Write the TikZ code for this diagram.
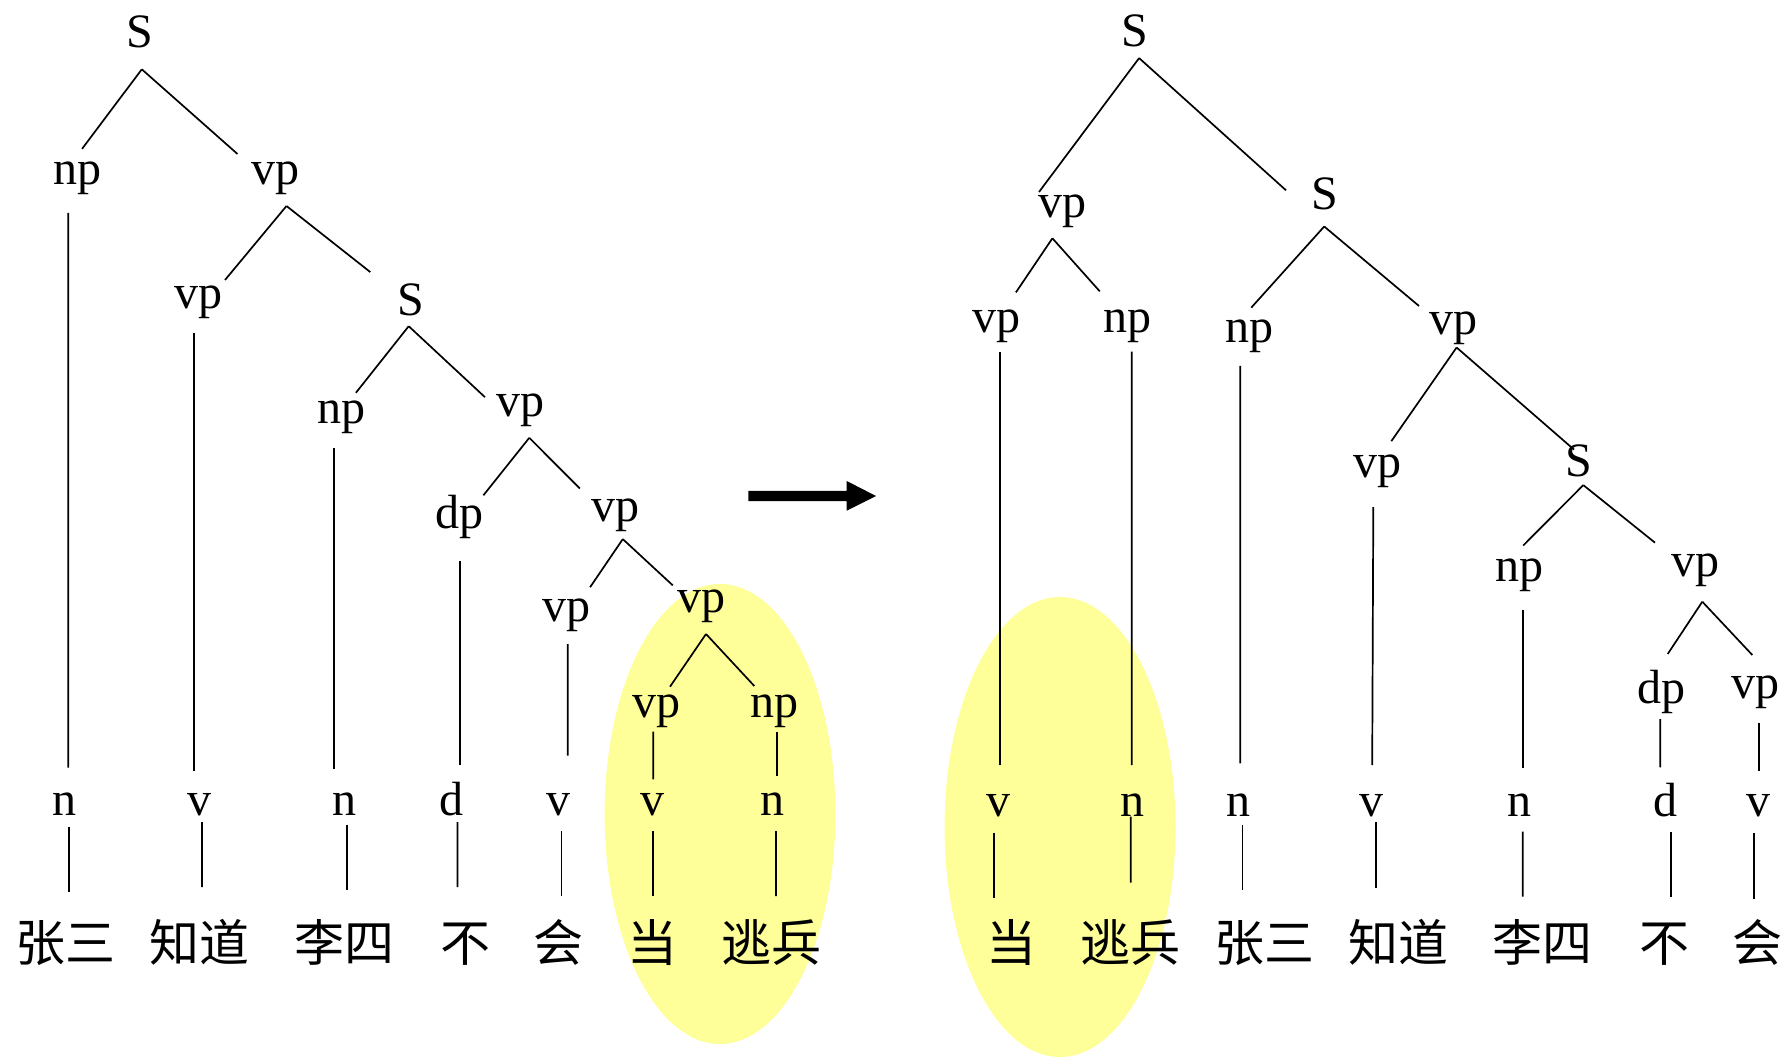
\documentclass[tikz,border=0pt]{standalone}
\usepackage{fontspec}
\setmainfont{Liberation Serif}
\newfontfamily\cjk{Noto Sans CJK SC}
\definecolor{hl}{RGB}{255,255,153}
\begin{document}
\begin{tikzpicture}[x=0.5pt,y=-0.5pt,
  lab/.style={font=\fontsize{24pt}{28pt}\selectfont,inner sep=0pt,anchor=base},
  word/.style={font=\cjk\fontsize{25pt}{30pt}\selectfont,inner sep=0pt,anchor=base},
  br/.style={line width=0.85pt,line cap=butt}]
\useasboundingbox (0,0) rectangle (1787,1058);
% highlight ellipses
\fill[hl] (720,814) ellipse [x radius=115.4, y radius=230];
\fill[hl] (1060,827) ellipse [x radius=115.5, y radius=230];
% ---------------- left tree ----------------
\node[lab] (LS)   at (139.5,48)  {S};
\node[lab] (Lnp1) at (77.5,185)  {np};
\node[lab] (Lvp1) at (275.5,185) {vp};
\node[lab] (Lvp2) at (198,309)   {vp};
\node[lab] (LS2)  at (410.4,316) {S};
\node[lab] (Lnp3) at (341.6,424) {np};
\node[lab] (Lvp3) at (520,417)   {vp};
\node[lab] (Ldp)  at (459.2,528.5) {dp};
\node[lab] (Lvp4) at (615.4,521.4) {vp};
\node[lab] (Lvp5) at (566,621)   {vp};
\node[lab] (Lvp6) at (701.5,612.5) {vp};
\node[lab] (Lvp7) at (656,717)   {vp};
\node[lab] (Lnp7) at (774,717)   {np};
\node[lab] (Ln1) at (64.9,815.5)  {n};
\node[lab] (Lv1) at (199.2,815.5) {v};
\node[lab] (Ln2) at (344.4,815.5) {n};
\node[lab] (Ld)  at (451.8,815.5) {d};
\node[lab] (Lv2) at (558.6,815.5) {v};
\node[lab] (Lv3) at (652.7,815.5) {v};
\node[lab] (Ln3) at (772.5,815.5) {n};
\node[word] (Lw1) at (65,961)    {张三};
\node[word] (Lw2) at (199,961)   {知道};
\node[word] (Lw3) at (344.4,961) {李四};
\node[word] (Lw4) at (465,961)   {不};
\node[word] (Lw5) at (558.3,961) {会};
\node[word] (Lw6) at (652.5,961) {当};
\node[word] (Lw7) at (771.3,961) {逃兵};
\draw[br] ([shift={(2.3,21.3)}]LS.base) -- ([shift={(4.6,-36.2)}]Lnp1.base);
\draw[br] ([shift={(2.3,21.3)}]LS.base) -- ([shift={(-38,-31)}]Lvp1.base);
\draw[br] ([shift={(11,21)}]Lvp1.base) -- ([shift={(27,-29)}]Lvp2.base);
\draw[br] ([shift={(11,21)}]Lvp1.base) -- ([shift={(-40.1,-43.9)}]LS2.base);
\draw[br] ([shift={(-9.2,28)}]Lnp1.base) -- ([shift={(3.4,-47.9)}]Ln1.base);
\draw[br] ([shift={(-4,24)}]Lvp2.base) -- ([shift={(-5.2,-45)}]Lv1.base);
\draw[br] ([shift={(-1.7,10.2)}]LS2.base) -- ([shift={(14.3,-31.2)}]Lnp3.base);
\draw[br] ([shift={(-1.7,10.2)}]LS2.base) -- ([shift={(-35,-19.8)}]Lvp3.base);
\draw[br] ([shift={(-7.6,24)}]Lnp3.base) -- ([shift={(-10.4,-46.8)}]Ln2.base);
\draw[br] ([shift={(9.3,20.8)}]Lvp3.base) -- ([shift={(24.2,-33.2)}]Ldp.base);
\draw[br] ([shift={(9.3,20.8)}]Lvp3.base) -- ([shift={(-35.6,-32.9)}]Lvp4.base);
\draw[br] ([shift={(0.6,32)}]Ldp.base) -- ([shift={(8,-50.4)}]Ld.base);
\draw[br] ([shift={(7.4,17.7)}]Lvp4.base) -- ([shift={(24.1,-33.8)}]Lvp5.base);
\draw[br] ([shift={(7.4,17.7)}]Lvp4.base) -- ([shift={(-28.7,-27.1)}]Lvp6.base);
\draw[br] ([shift={(1.7,23.1)}]Lvp5.base) -- ([shift={(9.1,-60)}]Lv2.base);
\draw[br] ([shift={(4.5,21.5)}]Lvp6.base) -- ([shift={(14,-30.3)}]Lvp7.base);
\draw[br] ([shift={(4.5,21.5)}]Lvp6.base) -- ([shift={(-19.7,-31)}]Lnp7.base);
\draw[br] ([shift={(-2.7,14.7)}]Lvp7.base) -- ([shift={(0.6,-36.2)}]Lv3.base);
\draw[br] ([shift={(2.7,14.7)}]Lnp7.base) -- ([shift={(4.2,-39.5)}]Ln3.base);
\draw[br] ([shift={(4.4,11.2)}]Ln1.base) -- ([shift={(4.3,-69.3)}]Lw1.base);
\draw[br] ([shift={(2.8,6.5)}]Lv1.base) -- ([shift={(3,-73.8)}]Lw2.base);
\draw[br] ([shift={(2.9,9.1)}]Ln2.base) -- ([shift={(2.9,-71.3)}]Lw3.base);
\draw[br] ([shift={(5.7,6.5)}]Ld.base) -- ([shift={(-7.5,-73.8)}]Lw4.base);
\draw[br] ([shift={(2.8,15.5)}]Lv2.base) -- ([shift={(3.1,-65.3)}]Lw5.base);
\draw[br] ([shift={(0.6,15.5)}]Lv3.base) -- ([shift={(0.8,-65)}]Lw6.base);
\draw[br] ([shift={(3.5,15.5)}]Ln3.base) -- ([shift={(4.7,-65)}]Lw7.base);
% ---------------- arrow ----------------
\fill (748.3,490.8) -- (846.7,490.8) -- (846.7,481) -- (876,496) -- (846.7,510.7) -- (846.7,501.2) -- (748.3,501.2) -- cycle;
% ---------------- right tree ----------------
\node[lab] (RS)   at (1134.5,46.5) {S};
\node[lab] (Rvp1) at (1062.2,218)  {vp};
\node[lab] (RS2)  at (1324.8,210)  {S};
\node[lab] (Rvp3) at (996.3,333)   {vp};
\node[lab] (Rnp3) at (1127,333)    {np};
\node[lab] (Rnp4) at (1249,343)    {np};
\node[lab] (Rvp4) at (1453.2,334.5) {vp};
\node[lab] (Rvp5) at (1377.4,478)  {vp};
\node[lab] (RS5)  at (1578.7,476.5) {S};
\node[lab] (Rnp6) at (1519,581.8)  {np};
\node[lab] (Rvp6) at (1695,576.5)  {vp};
\node[lab] (Rdp7) at (1661.8,703.3) {dp};
\node[lab] (Rvp7) at (1755.8,698.3) {vp};
\node[lab] (Rv1) at (998.7,816)  {v};
\node[lab] (Rn1) at (1132,816)   {n};
\node[lab] (Rn2) at (1238.6,816) {n};
\node[lab] (Rv2) at (1371.6,816) {v};
\node[lab] (Rn3) at (1519,816)   {n};
\node[lab] (Rd)  at (1665,816)   {d};
\node[lab] (Rv3) at (1758,816)   {v};
\node[word] (Rw1) at (1011.5,961) {当};
\node[word] (Rw2) at (1130,961)   {逃兵};
\node[word] (Rw3) at (1264,961)   {张三};
\node[word] (Rw4) at (1398,961)   {知道};
\node[word] (Rw5) at (1542,961)   {李四};
\node[word] (Rw6) at (1664,961)   {不};
\node[word] (Rw7) at (1757.5,961) {会};
\draw[br] ([shift={(4.6,11.6)}]RS.base) -- ([shift={(-23.2,-26)}]Rvp1.base);
\draw[br] ([shift={(4.6,11.6)}]RS.base) -- ([shift={(-38.8,-19.7)}]RS2.base);
\draw[br] ([shift={(-9.8,20.3)}]Rvp1.base) -- ([shift={(19.6,-40.6)}]Rvp3.base);
\draw[br] ([shift={(-9.8,20.3)}]Rvp1.base) -- ([shift={(-27.2,-41.6)}]Rnp3.base);
\draw[br] ([shift={(3.7,18.6)}]Rvp3.base) -- ([shift={(1.3,-51)}]Rv1.base);
\draw[br] ([shift={(4.7,18.6)}]Rnp3.base) -- ([shift={(-0.3,-51)}]Rn1.base);
\draw[br] ([shift={(-0.6,16.5)}]RS2.base) -- ([shift={(2.3,-35.4)}]Rnp4.base);
\draw[br] ([shift={(-0.6,16.5)}]RS2.base) -- ([shift={(-34.2,-28.5)}]Rvp4.base);
\draw[br] ([shift={(-8.7,22.8)}]Rnp4.base) -- ([shift={(1.7,-52.7)}]Rn2.base);
\draw[br] ([shift={(3.4,13)}]Rvp4.base) -- ([shift={(13.9,-36.8)}]Rvp5.base);
\draw[br] ([shift={(3.4,13)}]Rvp4.base) -- ([shift={(-4.7,-26.9)}]RS5.base);
\draw[br] ([shift={(-4.1,29.1)}]Rvp5.base) -- ([shift={(0.6,-51)}]Rv2.base);
\draw[br] ([shift={(4.6,8.6)}]RS5.base) -- ([shift={(4.1,-36.2)}]Rnp6.base);
\draw[br] ([shift={(4.6,8.6)}]RS5.base) -- ([shift={(-40,-33.8)}]Rvp6.base);
\draw[br] ([shift={(3.7,28.2)}]Rnp6.base) -- ([shift={(3.7,-47.7)}]Rn3.base);
\draw[br] ([shift={(7.3,25.2)}]Rvp6.base) -- ([shift={(5.9,-49.3)}]Rdp7.base);
\draw[br] ([shift={(7.3,25.2)}]Rvp6.base) -- ([shift={(-3.5,-43.3)}]Rvp7.base);
\draw[br] ([shift={(-1.5,15.7)}]Rdp7.base) -- ([shift={(-4.7,-48.7)}]Rd.base);
\draw[br] ([shift={(3.5,24.4)}]Rvp7.base) -- ([shift={(1.3,-45.3)}]Rv3.base);
\draw[br] ([shift={(-4.7,16.7)}]Rv1.base) -- ([shift={(-17.5,-63.5)}]Rw1.base);
\draw[br] ([shift={(-1.3,0.7)}]Rn1.base) -- ([shift={(0.7,-78.4)}]Rw2.base);
\draw[br] ([shift={(4,8.6)}]Rn2.base) -- ([shift={(-21.4,-71.3)}]Rw3.base);
\draw[br] ([shift={(4.6,6)}]Rv2.base) -- ([shift={(-21.8,-73.1)}]Rw4.base);
\draw[br] ([shift={(3.7,15.7)}]Rn3.base) -- ([shift={(-19.3,-64.3)}]Rw5.base);
\draw[br] ([shift={(6,15.7)}]Rd.base) -- ([shift={(7,-64.3)}]Rw6.base);
\draw[br] ([shift={(-3.7,17.3)}]Rv3.base) -- ([shift={(-3.2,-62)}]Rw7.base);
\end{tikzpicture}
\end{document}
